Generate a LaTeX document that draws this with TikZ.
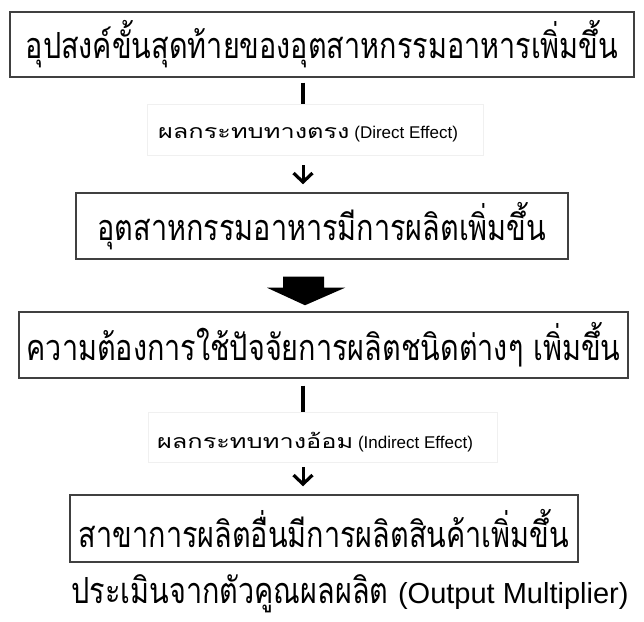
\documentclass[tikz,border=0pt]{standalone}
\usepackage{fontspec}
\setmainfont{Liberation Sans}
\newfontfamily\thai[Script=Thai,FakeStretch=0.8]{Loma}
\newfontfamily\thaismall[Script=Thai,FakeStretch=1.3]{Loma}
\usetikzlibrary{arrows.meta}
\tikzset{
  box/.style={draw=black!75, line width=1.5pt, inner sep=0pt, anchor=center},
  bigtext/.style={font=\thai\fontsize{36}{40}\selectfont},
  lbl/.style={draw=black!6, line width=0.6pt, inner sep=0pt},
  lbltext/.style={font=\fontsize{17}{20}\selectfont},
  stem/.style={line width=3.8pt},
  arr/.style={line width=3pt, -{Straight Barb[length=9pt,width=19pt,line width=3.2pt]}},
}
\begin{document}
\begin{tikzpicture}[x=1pt,y=1pt]
\useasboundingbox (0,0) rectangle (644,621);
\coordinate (axis) at (303,0);
\node[box, minimum width=624, minimum height=65, bigtext] (b1) at (322,576.5) {อุปสงค์ขั้นสุดท้ายของอุตสาหกรรมอาหารเพิ่มขึ้น};
\node[lbl, minimum width=336, minimum height=51] (l1) at (315,491.5) {};
\node[lbltext] (t1) at (308,487) {{\thaismall\fontsize{19.5}{22}\selectfont ผลกระทบทางตรง} (Direct Effect)};
\node[box, minimum width=492, minimum height=66, bigtext] (b2) at (322,395) {อุตสาหกรรมอาหารมีการผลิตเพิ่มขึ้น};
\node[box, minimum width=609, minimum height=66, bigtext] (b3) at (323.5,276) {ความต้องการใช้ปัจจัยการผลิตชนิดต่างๆ เพิ่มขึ้น};
\node[lbl, minimum width=349, minimum height=50] (l2) at (322.5,184) {};
\node[lbltext] (t2) at (315,179) {{\thaismall\fontsize{19.5}{22}\selectfont ผลกระทบทางอ้อม} (Indirect Effect)};
\node[box, minimum width=508, minimum height=67, bigtext] (b4) at (324,92.5) {สาขาการผลิตอื่นมีการผลิตสินค้าเพิ่มขึ้น};
\node[bigtext] (bt) at (350,27) {ประเมินจากตัวคูณผลผลิต {\fontspec{Liberation Sans}\fontsize{29}{34}\selectfont(Output Multiplier)}};
% connectors
\draw[stem] ([yshift=-5pt]b1.south -| axis) -- (l1.north -| axis);
\draw[arr] ([yshift=-10pt]l1.south -| axis) -- ([yshift=8pt]b2.north -| axis);
\draw[stem] ([yshift=-7pt]b3.south -| axis) -- (l2.north -| axis);
\draw[arr] ([yshift=-5pt]l2.south -| axis) -- ([yshift=8pt]b4.north -| axis);
% block arrow
\fill[black] ([xshift=-20pt,yshift=-17pt]b2.south -| axis) -- ++(41,0) -- ++(0,-11) -- ++(21,0)
  -- ([xshift=2pt,yshift=6pt]b3.north -| axis) -- ([xshift=-36pt,yshift=-28pt]b2.south -| axis) -- ++(16,0) -- cycle;
\end{tikzpicture}
\end{document}
